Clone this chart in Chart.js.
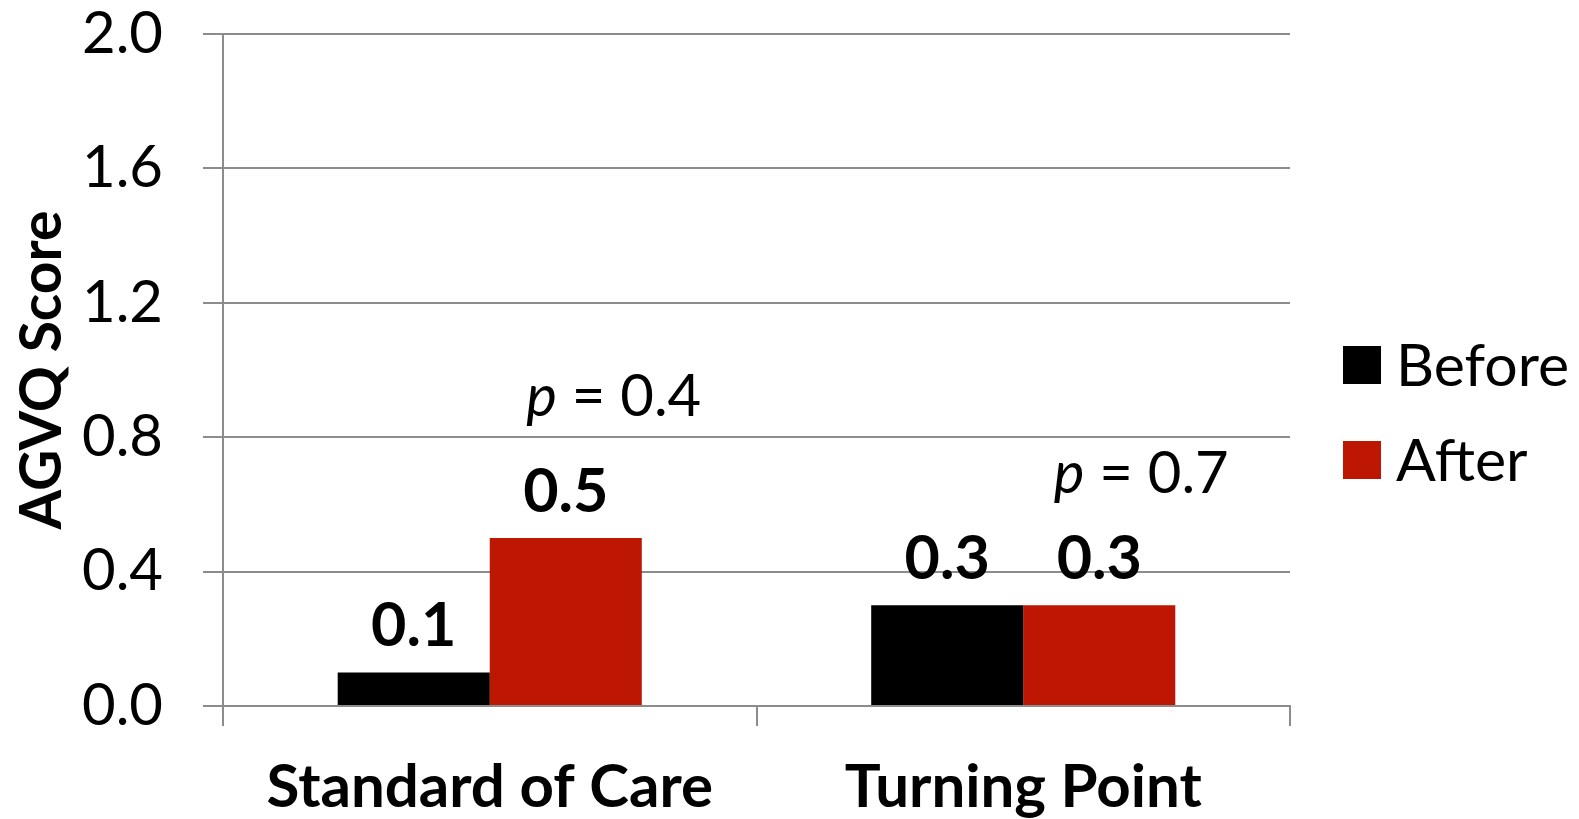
<!DOCTYPE html>
<html>
<head>
<meta charset="utf-8">
<title>AGVQ Score</title>
<style>
  html, body { margin: 0; padding: 0; background: #fff; }
  #wrap { width: 1579px; height: 819px; }
</style>
<script src="https://cdn.jsdelivr.net/npm/chart.js@4/dist/chart.umd.min.js"></script>
</head>
<body>
<div id="wrap"><canvas id="myChart" width="1579" height="819"></canvas></div>
<script>
var groups = ['Standard of Care', 'Turning Point'];
var before = [0.1, 0.3];
var after = [0.5, 0.3];
var yTicks = [0, 0.4, 0.8, 1.2, 1.6, 2.0];
var pLabels = ['0.4', '0.7'];
var pAt = [0.92, 0.69];   // height (score units) of the p-value notes

var FONT = 'Lato, "Open Sans", sans-serif';
var grey = '#8c8c8c';

// value labels above bars + p notes + legend
var extras = {
  id: 'extras',
  afterDraw: function (chart) {
    var ctx = chart.ctx;
    var x = chart.scales.x, y = chart.scales.y;
    ctx.save();
    ctx.fillStyle = '#000';
    ctx.textAlign = 'center';
    ctx.textBaseline = 'middle';
    ctx.font = 'bold 61px ' + FONT;
    chart.data.datasets.forEach(function (ds, i) {
      chart.getDatasetMeta(i).data.forEach(function (bar, j) {
        ctx.fillText(ds.data[j].toFixed(1), bar.x, bar.y - 46);
      });
    });

    // p values, a bit right of each group's centre
    var pDx = [124, 118];
    pLabels.forEach(function (t, j) {
      var cx = x.getPixelForValue(j) + pDx[j];
      var cy = y.getPixelForValue(pAt[j]);
      ctx.font = 'italic 58px ' + FONT;
      var w1 = ctx.measureText('p').width;
      ctx.font = '58px ' + FONT;
      var rest = ' = ' + t;
      var w2 = ctx.measureText(rest).width;
      var sx = cx - (w1 + w2) / 2;
      ctx.textAlign = 'left';
      ctx.font = 'italic 58px ' + FONT;
      ctx.fillText('p', sx, cy);
      ctx.font = '58px ' + FONT;
      ctx.fillText(rest, sx + w1, cy);
    });

    // legend
    var lx = chart.chartArea.right + 53;
    var ly = [365, 460];
    ctx.textAlign = 'left';
    ctx.font = '59px ' + FONT;
    chart.data.datasets.forEach(function (ds, i) {
      ctx.fillStyle = ds.backgroundColor;
      ctx.fillRect(lx, ly[i] - 19, 38, 38);
      ctx.fillStyle = '#000';
      ctx.fillText(ds.label, lx + 53, ly[i] + 2);
    });
    ctx.restore();
  }
};

var ctx = document.getElementById('myChart').getContext('2d');
var chart = new Chart(ctx, {
  type: 'bar',
  data: {
    labels: groups,
    datasets: [
      { label: 'Before', data: before, backgroundColor: '#000000' },
      { label: 'After', data: after, backgroundColor: '#bd1603' }
    ]
  },
  options: {
    responsive: false,
    animation: false,
    layout: { padding: { left: 0, right: 289, top: 34, bottom: 0 } },
    datasets: { bar: { barPercentage: 1, categoryPercentage: 0.57 } },
    plugins: { legend: { display: false }, tooltip: { enabled: false } },
    scales: {
      x: {
        offset: true,
        grid: { offset: true, drawOnChartArea: false, drawTicks: true, tickLength: 20, color: grey, lineWidth: 2 },
        border: { color: grey, width: 2 },
        ticks: { color: '#000', padding: 26, font: { family: FONT, size: 60, weight: 'bold' } },
        afterFit: function (s) { s.height = 113; s.paddingLeft = 0; s.paddingRight = 0; }
      },
      y: {
        min: 0,
        max: 2,
        afterBuildTicks: function (s) { s.ticks = yTicks.map(function (v) { return { value: v }; }); },
        grid: { color: grey, lineWidth: 2, tickLength: 20 },
        border: { color: grey, width: 2 },
        ticks: {
          color: '#000', padding: 40,
          font: { family: FONT, size: 58 },
          callback: function (v) { return Number(v).toFixed(1); }
        },
        title: {
          display: true, text: 'AGVQ Score', color: '#000',
          padding: { top: 8, bottom: 0 },
          font: { family: FONT, size: 57, weight: 'bold' }
        },
        afterFit: function (s) { s.width = 223; s.paddingTop = 0; s.paddingBottom = 0; }
      }
    }
  },
  plugins: [extras]
});
</script>
</body>
</html>
